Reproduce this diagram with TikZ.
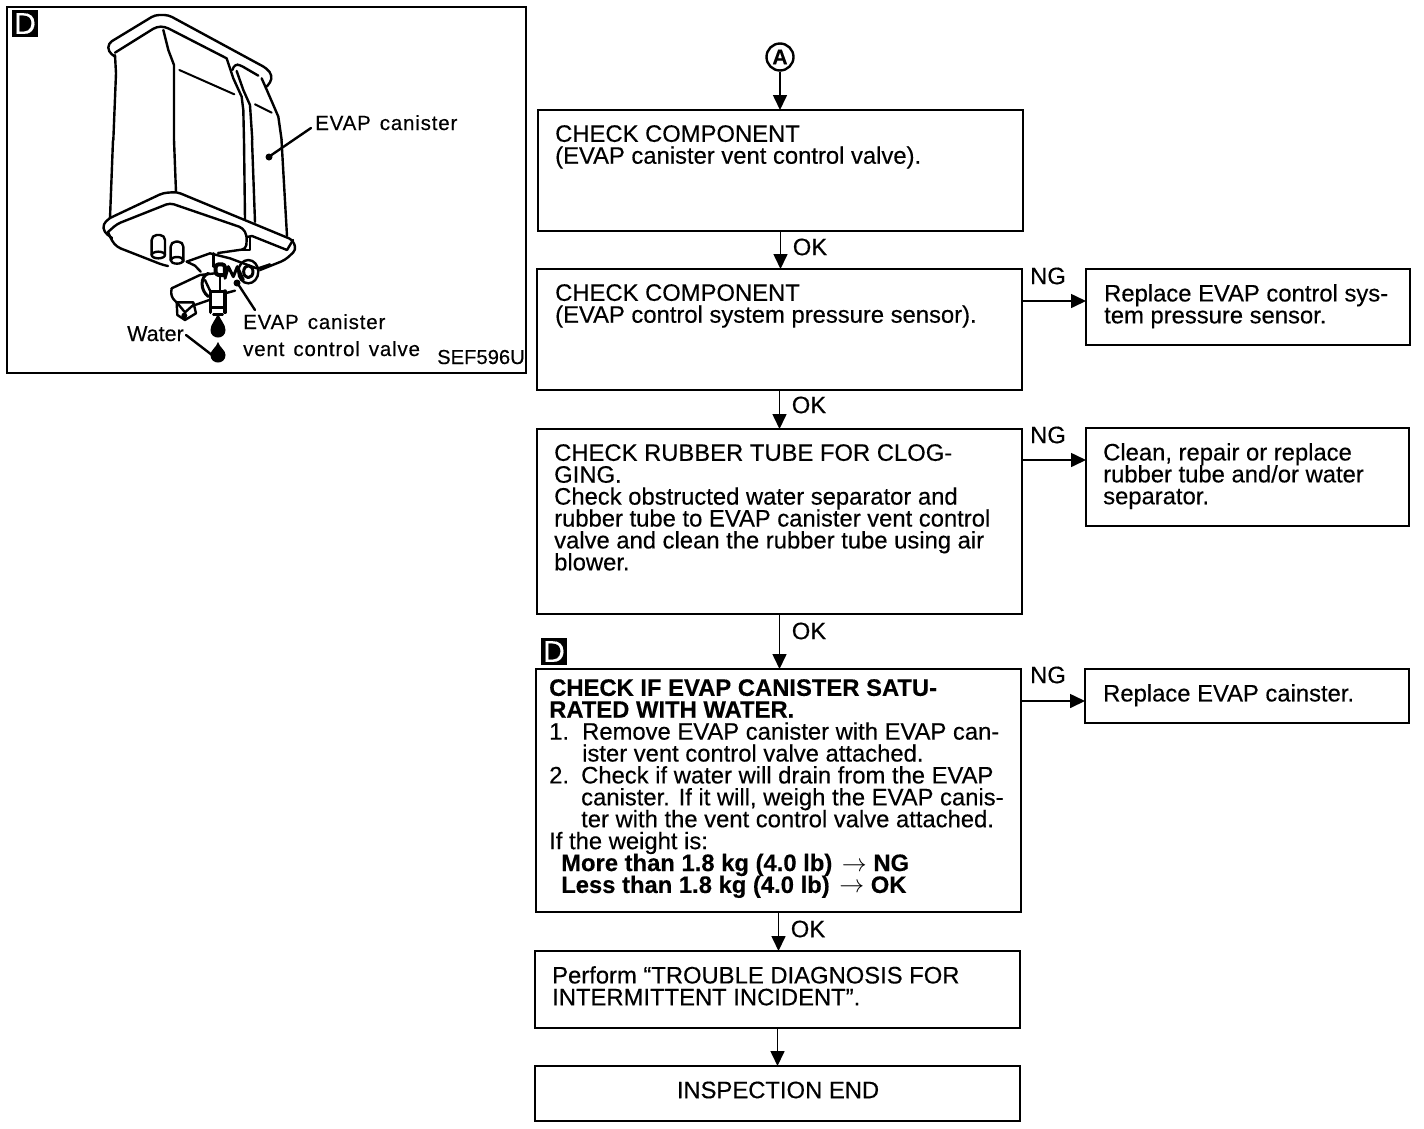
\documentclass[tikz,border=0pt]{standalone}
\usepackage{fontspec}
\setmainfont{Liberation Sans}[FakeBold=0.35]
\newfontfamily\lblfont{Liberation Sans}[LetterSpace=4,FakeBold=0.35]
\usetikzlibrary{arrows.meta}
\newcommand{\tightlines}{\lineskiplimit=-100pt\relax}
\tikzset{
  box/.style={draw=black,line width=2pt,fill=white,anchor=north west,inner sep=0pt,outer sep=0pt},
  txt/.style={anchor=north west,inner sep=0pt,align=left,font={\fontsize{23.8}{21.9}\selectfont\tightlines}},
  tag/.style={inner sep=0pt,font=\fontsize{23.8}{22}\selectfont},
  lbl/.style={inner sep=0pt,anchor=base west,font=\fontsize{20.5}{22}\lblfont},
  arr/.style={line width=1.6pt,-{Triangle[length=15pt,width=14pt]}},
  ink/.style={line width=2.4pt,line join=round,line cap=round},
  thinink/.style={line width=2pt,line join=round,line cap=round},
  badge/.style={fill=black,draw=none,inner sep=0pt,outer sep=0pt,minimum width=26pt,minimum height=27pt,anchor=north west,text=white},
}
\begin{document}
\begin{tikzpicture}[x=1pt,y=-1pt]
\useasboundingbox (0,0) rectangle (1424,1128);
\fill[white] (0,0) rectangle (1424,1128);
% illustration frame
\node[box,minimum width=519pt,minimum height=366pt] (frame) at (7,7) {};
\node[badge] (mk1) at (12,10) {\fontsize{30}{30}\selectfont D};
% canister top
\begin{scope}[shift={(100,10)},x=0.3333pt,y=-0.3333pt,ink]
\draw[rounded corners=4pt] (45,140) -- (25,125) -- (25,100) -- (165,15) -- (205,15) -- (500,175) -- (516,195) -- (512,218) -- (497,232);
\draw[rounded corners=4pt] (45,128) -- (170,50) -- (195,50) -- (380,145);
\draw (45,135) -- (48,190) -- (40,390);
\draw (190,60) -- (205,120) -- (222,165) -- (222,390);
\draw[thinink] (238,180) -- (403,253);
\draw (380,145) -- (400,205) -- (425,260) -- (430,300) -- (432,390);
\draw (410,183) -- (430,240) -- (450,285) -- (457,390);
\draw[rounded corners=3pt] (397,180) -- (405,163) -- (420,165) -- (475,197);
\draw (485,205) -- (497,232) -- (520,285) -- (535,320) -- (545,390);
\draw[thinink] (465,283) -- (515,308);
\end{scope}
% canister body and bottom flange, in reference pixels
\begin{scope}[ink]
\draw (113,140) -- (110,218);
\draw (174,140) -- (176,192);
\draw (244,140) -- (245,219);
\draw (252,140) -- (255,222);
\draw (281.5,140) -- (287,236);
\draw[rounded corners=4pt] (110,218) -- (103,224) -- (104,232) -- (112,238);
\draw[rounded corners=4pt] (110,218) -- (163,193) -- (177,192) -- (293,240) -- (296,250) -- (285,260) -- (260,270);
\draw[rounded corners=4pt] (108,232) -- (117,224) -- (170,203) -- (243,228) -- (247,236) -- (246,249) -- (218,253);
\draw[rounded corners=4pt] (108,232) -- (112,241) -- (117,247) -- (163,265) -- (168,266);
\draw (247,237) -- (252,236) -- (287,250) -- (293,240);
\draw (250,237) -- (250,250) -- (238,250);
\end{scope}
% nipples and valve
\begin{scope}[shift={(150,225)},x=0.3333pt,y=-0.3333pt,ink]
\draw[rounded corners=5pt] (5,90) -- (5,30) -- (45,30) -- (45,90);
\draw (25,90) ellipse [x radius=20,y radius=10];
\draw[rounded corners=5pt] (62,105) -- (62,50) -- (100,50) -- (100,110);
\draw (81,106) ellipse [x radius=19,y radius=10];
\draw (110,110) -- (180,85) -- (240,100) -- (320,130);
\draw (110,110) -- (135,122) -- (152,140);
\draw (190,85) -- (190,125);
\draw (295,140) ellipse [x radius=30,y radius=35];
\draw[line width=3pt] (295,140) ellipse [x radius=14,y radius=18];
\draw (325,130) -- (360,118);
\draw[line width=4pt,rounded corners=3pt] (225,150) -- (225,118) -- (197,118) -- (197,150) -- (225,150);
\draw[line width=3pt] (225,160) -- (235,125) -- (250,155) -- (262,125) -- (280,165);
\draw (65,190) -- (150,150) -- (195,145);
\draw[rounded corners=5pt] (65,190) -- (62,215) -- (80,232);
\draw[line width=3pt] (175,145) .. controls (150,155) and (150,195) .. (175,215);
\draw (165,165) -- (180,197);
\draw (210,155) -- (210,197);
\draw (225,205) -- (255,197);
\draw (135,240) -- (178,225);
\draw (80,232) -- (130,232) -- (138,265) -- (105,285) -- (82,270) -- cycle;
\draw (80,232) -- (105,262) -- (130,240) (105,262) -- (105,285);
\fill (103,272) circle [radius=9];
\draw[line width=3pt] (182,198) -- (225,198);
\draw[line width=3.5pt] (182,198) -- (182,262) (225,198) -- (225,262);
\draw (182,248) -- (225,248);
\draw (190,268) -- (218,268) (204,268) -- (204,280);
\end{scope}
% drops and leaders
\begin{scope}[ink]
\coordinate (d1) at (218,313);
\coordinate (d2) at (218,342);
\fill (d1) .. controls (220,320) and (225.5,324) .. (225.5,330) .. controls (225.5,340) and (210.5,340) .. (210.5,330) .. controls (210.5,324) and (216,320) .. (d1) -- cycle;
\fill (d2) .. controls (220,348) and (225.5,350) .. (225.5,355) .. controls (225.5,365) and (210.5,365) .. (210.5,355) .. controls (210.5,350) and (216,348) .. (d2) -- cycle;
\draw (311,128) -- (270,156);
\fill (269,157) circle [radius=3.5];
\draw (255,310) -- (238,284);
\fill (237,283) circle [radius=3.5];
\draw (186,335) -- (212,355);
\end{scope}
\node[lbl] (lcan) at (315,130) {EVAP\hspace{9pt}canister};
\node[lbl] (lvalve) at (243,329) {EVAP\hspace{9pt}canister};
\node[lbl] (lvalve2) at (243,356) {vent\hspace{9pt}control\hspace{9pt}valve};
\node[inner sep=0pt,anchor=base west,font=\fontsize{21.5}{22}\selectfont] (lwater) at (127,341) {Water};
\node[inner sep=0pt,anchor=base west,font=\fontsize{20.2}{22}\selectfont] (lsef) at (437,364) {SEF596U};
% flow: start
\node[circle,draw=black,line width=2.4pt,fill=white,minimum size=27pt,inner sep=0pt] (start) at (780,57) {\fontsize{21}{21}\selectfont\bfseries A};
% boxes
\node[box,minimum width=485pt,minimum height=121pt] (b1) at (538,110) {};
\node[box,minimum width=485pt,minimum height=121pt] (b2) at (537,269) {};
\node[box,minimum width=485pt,minimum height=185pt] (b3) at (537,429) {};
\node[box,minimum width=485pt,minimum height=243pt] (b4) at (536,669) {};
\node[box,minimum width=485pt,minimum height=77pt] (b5) at (535,951) {};
\node[box,minimum width=485pt,minimum height=55pt] (b6) at (535,1066) {};
\node[box,minimum width=324pt,minimum height=76pt] (n1) at (1086,269) {};
\node[box,minimum width=323pt,minimum height=98pt] (n2) at (1086,428) {};
\node[box,minimum width=324pt,minimum height=54pt] (n3) at (1085,669) {};
\node[badge] (mk2) at (541,638) {\fontsize{30}{30}\selectfont D};
% texts
\node[txt] (t1) at (555,125) {CHECK COMPONENT\\(EVAP canister vent control valve).};
\node[txt] (t2) at (555,284) {CHECK COMPONENT\\(EVAP control system pressure sensor).};
\node[txt] (t3) at (554,444) {CHECK RUBBER TUBE FOR CLOG-\\GING.\\Check obstructed water separator and\\rubber tube to EVAP canister vent control\\valve and clean the rubber tube using air\\blower.};
\node[txt] (t4) at (549,679) {\textbf{CHECK IF EVAP CANISTER SATU-}\\\textbf{RATED WITH WATER.}\\\makebox[33pt][l]{1.}Remove EVAP canister with EVAP can-\\\hspace*{33pt}ister vent control valve attached.\\\makebox[32pt][l]{2.}Check if water will drain from the EVAP\\\hspace*{32pt}canister. If it will, weigh the EVAP canis-\\\hspace*{32pt}ter with the vent control valve attached.\\If the weight is:\\\hspace*{12pt}\textbf{More than 1.8 kg (4.0 lb)\hspace{3pt} $\rightarrow$ NG}\\\hspace*{12pt}\textbf{Less than 1.8 kg (4.0 lb)\hspace{3pt} $\rightarrow$ OK}};
\node[txt] (t5) at (552,966) {Perform “TROUBLE DIAGNOSIS FOR\\INTERMITTENT INCIDENT”.};
\node[tag] (t6) at (778,1090) {INSPECTION END};
\node[txt] (tn1) at (1104,284) {Replace EVAP control sys-\\tem pressure sensor.};
\node[txt] (tn2) at (1103,443) {Clean, repair or replace\\rubber tube and/or water\\separator.};
\node[txt] (tn3) at (1103,684) {Replace EVAP cainster.};
% connectors
\draw[arr] (start) -- (start |- b1.north);
\draw[arr] (b1.south) -- (b1.south |- b2.north);
\draw[arr] (b2.south) -- (b2.south |- b3.north);
\draw[arr] (b3.south) -- (b3.south |- b4.north);
\draw[arr] (b4.south) -- (b4.south |- b5.north);
\draw[arr] (b5.south) -- (b5.south |- b6.north);
\draw[arr] ([yshift=28.5pt]b2.east) -- ([yshift=6pt]n1.west);
\draw[arr] ([yshift=61.5pt]b3.east) -- ([yshift=17pt]n2.west);
\draw[arr] ([yshift=89.5pt]b4.east) -- ([yshift=-5pt]n3.west);
\node[tag] (ok1) at (810,247) {OK};
\node[tag] (ok2) at (809,405) {OK};
\node[tag] (ok3) at (809,631) {OK};
\node[tag] (ok4) at (808,929) {OK};
\node[tag] (ng1) at (1048,276) {NG};
\node[tag] (ng2) at (1048,435) {NG};
\node[tag] (ng3) at (1048,675) {NG};
\end{tikzpicture}
\end{document}
